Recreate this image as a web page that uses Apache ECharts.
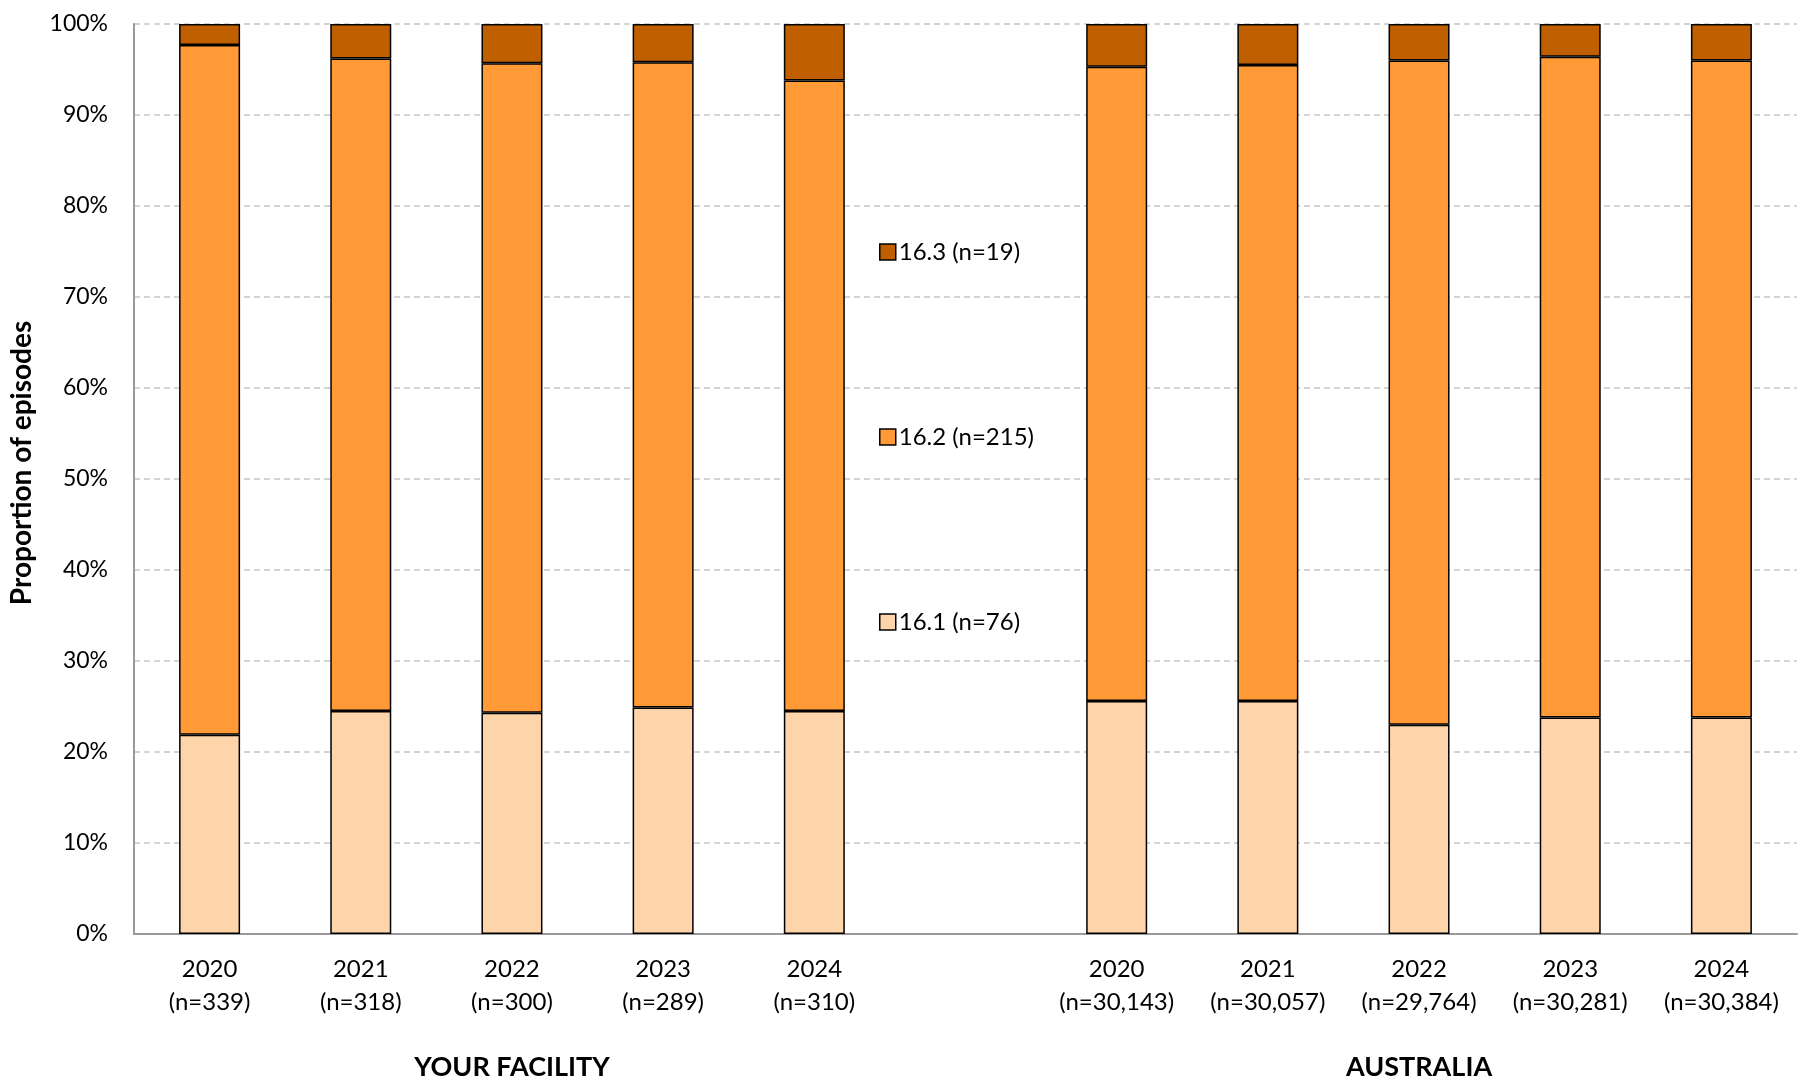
<!DOCTYPE html>
<html>
<head>
<meta charset="utf-8">
<script src="https://cdn.jsdelivr.net/npm/echarts@6/dist/echarts.min.js"></script>
<style>html,body{margin:0;padding:0;background:#fff}#c{width:1806px;height:1089px}</style>
</head>
<body>
<div id="c"></div>
<script>
// Category labels (blank slot separates the two groups)
const facilityLabels = ['2020\n(n=339)', '2021\n(n=318)', '2022\n(n=300)', '2023\n(n=289)', '2024\n(n=310)'];
const australiaLabels = ['2020\n(n=30,143)', '2021\n(n=30,057)', '2022\n(n=29,764)', '2023\n(n=30,281)', '2024\n(n=30,384)'];
const groupNames = ['YOUR FACILITY', 'AUSTRALIA'];
const seriesNames = ['16.1 (n=76)', '16.2 (n=215)', '16.3 (n=19)'];

// Proportions (%)
const facility161 = [21.9, 24.5, 24.3, 24.9, 24.5];
const facility162 = [75.8, 71.7, 71.4, 70.9, 69.3];
const facility163 = [2.3, 3.8, 4.3, 4.2, 6.2];
const australia161 = [25.6, 25.6, 23.0, 23.8, 23.8];
const australia162 = [69.7, 69.9, 73.0, 72.6, 72.2];
const australia163 = [4.7, 4.5, 4.0, 3.6, 4.0];

const yTicks = {min: 0, max: 100, interval: 10};

const categories = facilityLabels.concat(['']).concat(australiaLabels);
const join = (a, b) => a.concat([null]).concat(b);
const groupIdx = {2: groupNames[0], 8: groupNames[1]};

const colors = ['#FED5AA', '#FF9A36', '#C05F00'];
const FONT = 'Lato, "Noto Sans", sans-serif';

const chart = echarts.init(document.getElementById('c'));
const mk = (name, data, color) => ({
  name, type: 'bar', stack: 'total', data, barWidth: 61,
  itemStyle: {color, borderColor: '#000', borderWidth: 1.5},
  emphasis: {disabled: true}
});
chart.setOption({
  animation: false,
  textStyle: {fontFamily: FONT},
  grid: {left: 134, right: 9, top: 24, bottom: 155, containLabel: false, outerBoundsMode: 'none'},
  legend: {
    orient: 'vertical', left: 874, top: 235,
    data: [seriesNames[2], seriesNames[1], seriesNames[0]],
    itemWidth: 16, itemHeight: 16, itemGap: 161,
    icon: 'rect',
    itemStyle: {borderColor: '#000', borderWidth: 1.5},
    textStyle: {fontSize: 24, color: '#000', fontFamily: FONT, lineHeight: 22, padding: [0, 0, 0, -2]}
  },
  xAxis: [{
    type: 'category', data: categories,
    axisLine: {lineStyle: {color: '#999', width: 2}},
    axisTick: {show: false},
    axisLabel: {interval: 0, fontSize: 24, color: '#000', lineHeight: 33, margin: 19, fontFamily: FONT}
  }, {
    type: 'category', data: categories, position: 'bottom',
    axisLine: {show: false}, axisTick: {show: false},
    axisLabel: {interval: 0, margin: 120, fontSize: 27, fontWeight: 'bold', color: '#000', fontFamily: FONT,
      formatter: (v, i) => groupIdx[i] || ''}
  }],
  yAxis: {
    type: 'value', min: yTicks.min, max: yTicks.max, interval: yTicks.interval,
    name: 'Proportion of episodes', nameLocation: 'middle', nameGap: 98,
    nameTextStyle: {fontSize: 28, fontWeight: 'bold', color: '#000', fontFamily: FONT, padding: [0, 0, 0, 32]},
    axisLine: {show: true, lineStyle: {color: '#999', width: 2}},
    axisTick: {show: false},
    axisLabel: {formatter: '{value}%', fontSize: 23, color: '#000', margin: 26, fontFamily: FONT},
    splitLine: {lineStyle: {color: '#c6c6c6', width: 1.5, type: [6, 4]}}
  },
  series: [
    mk(seriesNames[0], join(facility161, australia161), colors[0]),
    mk(seriesNames[1], join(facility162, australia162), colors[1]),
    mk(seriesNames[2], join(facility163, australia163), colors[2])
  ]
});
</script>
</body>
</html>
